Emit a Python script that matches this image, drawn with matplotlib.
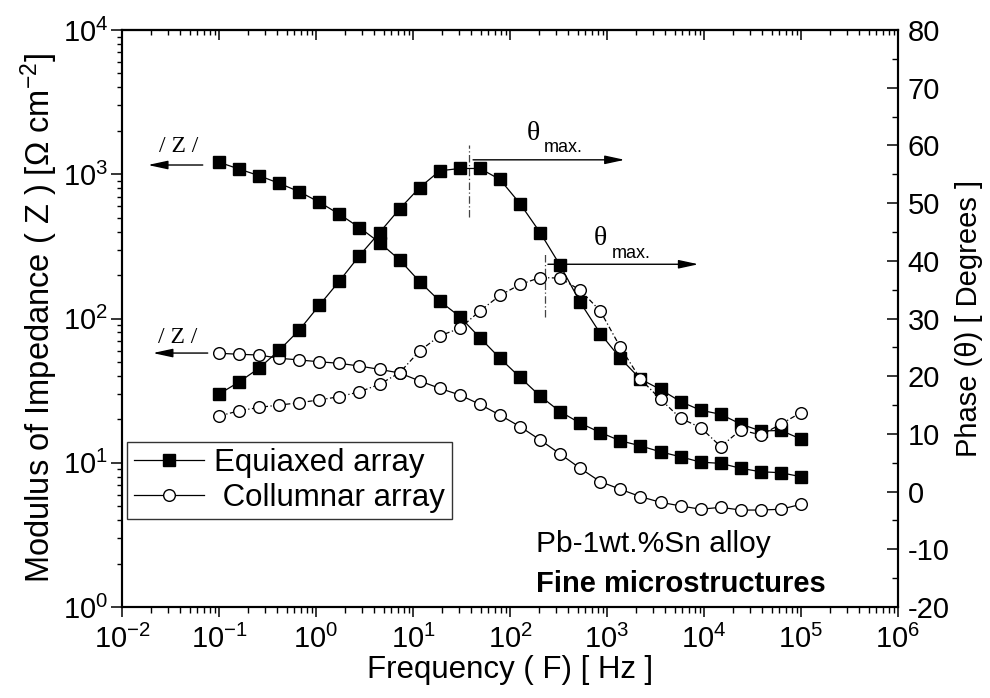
import matplotlib
matplotlib.use("Agg")
import matplotlib.pyplot as plt
from matplotlib.ticker import LogLocator, MultipleLocator, NullFormatter

plt.rcParams['font.family'] = ['Liberation Sans', 'DejaVu Sans']
plt.rcParams['mathtext.fontset'] = 'custom'
plt.rcParams['mathtext.rm'] = 'Liberation Sans'
plt.rcParams['mathtext.it'] = 'Liberation Sans:italic'
plt.rcParams['mathtext.bf'] = 'Liberation Sans:bold'
plt.rcParams['axes.unicode_minus'] = False

# ---------------- data ----------------
freq = [0.1, 0.161, 0.2593, 0.4175, 0.6723, 1.083, 1.743, 2.807, 4.520, 7.279,
        11.72, 18.87, 30.39, 48.94, 78.80, 126.9, 204.3, 329.0, 529.8, 853.1,
        1374, 2212, 3562, 5736, 9237, 14874, 23950, 38566, 62102, 100000]

equi_Z = [1211, 1087, 977, 865, 757, 640, 528, 427, 336, 255,
          180, 132, 103, 73.6, 53.0, 39.1, 29.0, 22.6, 18.8, 16.2,
          14.2, 13.1, 11.9, 11.0, 10.1, 9.9, 9.15, 8.66, 8.53, 8.0]

equi_phase = [16.9, 19.0, 21.4, 24.5, 28.0, 32.3, 36.5, 40.9, 44.9, 49.0,
              52.7, 55.6, 56.0, 56.0, 54.1, 49.9, 44.9, 39.2, 32.8, 27.4,
              23.1, 19.5, 17.7, 15.6, 14.1, 13.4, 11.7, 10.5, 10.6, 9.1]

col_Z = [57.4, 56.5, 55.8, 53.0, 51.6, 50.1, 48.9, 46.8, 44.4, 41.9,
         36.9, 32.8, 29.5, 25.4, 21.4, 17.8, 14.4, 11.5, 9.15, 7.39,
         6.55, 5.82, 5.32, 5.02, 4.76, 4.91, 4.70, 4.70, 4.76, 5.15]

col_phase = [13.1, 14.0, 14.6, 15.0, 15.4, 15.9, 16.45, 17.3, 18.6, 20.6,
             24.4, 27.0, 28.3, 31.3, 34.0, 35.9, 37.1, 37.0, 34.9, 31.3,
             25.0, 19.5, 16.0, 12.7, 11.1, 7.8, 10.7, 9.8, 11.7, 13.7]

series_labels = ["Equiaxed array", " Collumnar array"]

# annotation anchors (data coordinates)
z_arrow1 = ((0.068, 1159), (0.0185, 1159)); z_text1 = (0.0385, 1556)
z_arrow2 = ((0.0765, 57.6), (0.0208, 57.6)); z_text2 = (0.0376, 73.8)
th1_vline = (37.9, 47.6, 60.1); th1_arrow = ((41.6, 57.5), (1523, 57.5))
th1_text = (149.6, 62.1); th1_sub = (224, 59.7)
th2_vline = (229, 30.3, 41.6); th2_arrow = ((246, 39.4), (8770, 39.4))
th2_text = (731, 43.9); th2_sub = (1117, 41.35)

# ---------------- figure ----------------
W, H = 990, 698
fig = plt.figure(figsize=(W / 100, H / 100), dpi=100)
L, R, T, B = 122, 898, 30, 607
ax = fig.add_axes([L / W, 1 - B / H, (R - L) / W, (B - T) / H])
ax.set_xscale('log')
ax.set_yscale('log')
ax.set_xlim(1e-2, 1e6)
ax.set_ylim(1, 1e4)

ax2 = ax.twinx()
ax2.set_ylim(-20, 80)

lw = 0.9
ms = 8.4
l1, = ax.plot(freq, equi_Z, '-', color='k', lw=lw, marker='s', ms=ms,
              mfc='k', mec='k', zorder=3)
l2, = ax.plot(freq, col_Z, '-', color='k', lw=lw, marker='o', ms=ms,
              mfc='white', mec='k', mew=1.0, zorder=3)
ax2.plot(freq, equi_phase, '-', color='k', lw=lw, marker='s', ms=ms,
         mfc='k', mec='k', zorder=3)
ax2.plot(freq, col_phase, color='k', lw=lw, ls=(0, (4, 2, 1, 2)), marker='o',
         ms=ms, mfc='white', mec='k', mew=1.0, zorder=3)

for a in (ax, ax2):
    for s in a.spines.values():
        s.set_linewidth(1.5)

tick_fs = 21
ax.xaxis.set_major_locator(LogLocator(base=10, numticks=20))
ax.xaxis.set_minor_locator(LogLocator(base=10, subs=range(2, 10), numticks=100))
ax.xaxis.set_minor_formatter(NullFormatter())
ax.yaxis.set_major_locator(LogLocator(base=10, numticks=20))
ax.yaxis.set_minor_locator(LogLocator(base=10, subs=range(2, 10), numticks=100))
ax.yaxis.set_minor_formatter(NullFormatter())
ax.tick_params(axis='x', which='major', direction='out', length=7.5, width=1.1,
               labelsize=tick_fs, pad=5, top=False)
ax.tick_params(axis='x', which='minor', direction='out', length=4, width=1.0, top=False)
ax.tick_params(axis='y', which='major', direction='out', length=8, width=1.1,
               labelsize=tick_fs, pad=2, right=False)
ax.tick_params(axis='y', which='minor', direction='out', length=3.5, width=1.0, right=False)

top = ax.secondary_xaxis('top')
top.xaxis.set_major_locator(LogLocator(base=10, numticks=20))
top.xaxis.set_minor_locator(LogLocator(base=10, subs=range(2, 10), numticks=100))
top.tick_params(axis='x', which='major', direction='in', length=7, width=1.1, labeltop=False)
top.tick_params(axis='x', which='minor', direction='in', length=3.5, width=1.0)
top.spines['top'].set_linewidth(1.5)

ax2.yaxis.set_major_locator(MultipleLocator(10))
ax2.yaxis.set_minor_locator(MultipleLocator(5))
ax2.tick_params(axis='y', which='major', direction='in', length=8, width=1.1,
                labelsize=tick_fs, pad=7)
ax2.tick_params(axis='y', which='minor', direction='in', length=4, width=1.0)

ax.set_xlabel("Frequency ( F) [ Hz ]", fontsize=22.5, labelpad=1)
ax.set_ylabel(r"Modulus of Impedance ( Z ) [$\Omega$ cm$^{-2}$]", fontsize=23.5, labelpad=2)
ax2.set_ylabel("Phase (\u03b8) [ Degrees ]", fontsize=21, labelpad=4)

# legend
leg = ax2.legend([l1, l2], series_labels, loc='upper left',
                 bbox_to_anchor=(0.0068, 0.2865), fontsize=22.5,
                 frameon=True, fancybox=False, edgecolor='#333333',
                 framealpha=1, handlelength=2.26, handletextpad=0.33,
                 borderpad=0.2, labelspacing=0.15, borderaxespad=0)
leg.get_frame().set_linewidth(1.0)

# |Z| annotations
arrow_kw = dict(arrowstyle='-|>,head_length=0.6,head_width=0.13', color='k',
                lw=1.0, mutation_scale=20, shrinkA=0, shrinkB=0)
for (start, end), txt in ((z_arrow1, z_text1), (z_arrow2, z_text2)):
    ax.annotate('', xy=end, xytext=start, arrowprops=arrow_kw, zorder=4)
    ax.text(txt[0], txt[1], '/ Z /', family='Liberation Serif', fontsize=17,
            ha='center', va='center')

# theta max annotations
for vl, arr, tt, sub in ((th1_vline, th1_arrow, th1_text, th1_sub),
                         (th2_vline, th2_arrow, th2_text, th2_sub)):
    ax2.plot([vl[0], vl[0]], [vl[1], vl[2]], color='#444444', lw=0.9,
             ls=(0, (6, 2, 1, 2)), zorder=2)
    ax2.annotate('', xy=arr[1], xytext=arr[0], arrowprops=arrow_kw, zorder=4)
    ax2.text(tt[0], tt[1], '\u03b8', family='Liberation Serif', fontsize=20,
             ha='left', va='center')
    ax2.text(sub[0], sub[1], 'max.', fontsize=13, ha='left', va='center')

# alloy text
ax2.text(536 / W, 1 - 552 / H, "Pb-1wt.%Sn alloy", transform=fig.transFigure,
         fontsize=21.5, ha='left', va='baseline')
ax2.text(536 / W, 1 - 591.5 / H, "Fine microstructures", transform=fig.transFigure,
         fontsize=21, fontweight='bold', ha='left', va='baseline')

fig.savefig("out.png", dpi=100)
